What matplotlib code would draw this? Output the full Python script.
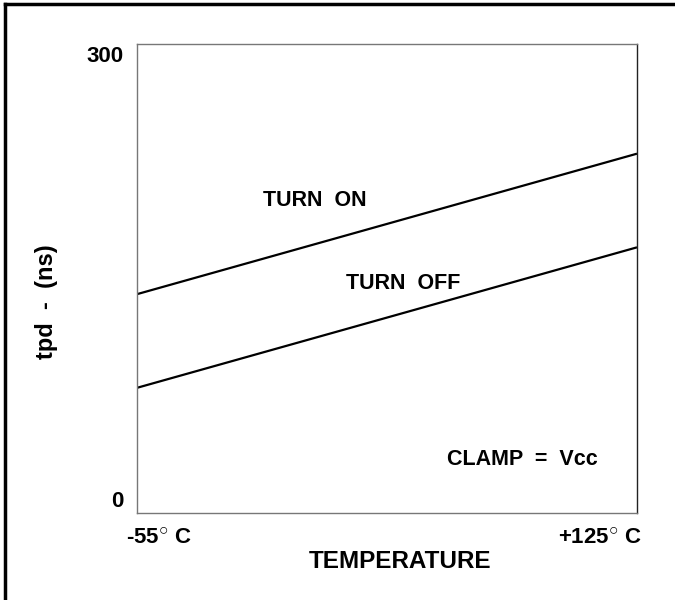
import matplotlib
matplotlib.use("Agg")
import matplotlib.pyplot as plt
from matplotlib.lines import Line2D
from matplotlib.transforms import ScaledTranslation

plt.rcParams["font.family"] = ["Liberation Sans", "DejaVu Sans"]
plt.rcParams["font.weight"] = "bold"
plt.rcParams["mathtext.fontset"] = "custom"
plt.rcParams["mathtext.rm"] = "Liberation Sans:bold"
plt.rcParams["mathtext.default"] = "regular"

# temperature range (deg C) and propagation delay (ns)
temps = [-55, 125]
turn_on = [140, 230]
turn_off = [80, 170]
y_ticks = [0, 300]
x_tick_labels = ["-55$^{\u25cb}\\;$C", "+125$^{\u25cb}\\;$C"]

fig = plt.figure(figsize=(6.75, 6), dpi=100)
ax = fig.add_axes([137 / 675, 1 - 512.7 / 600, 500 / 675, 468.3 / 600])

ax.plot(temps, turn_on, color="black", linewidth=1.6, solid_capstyle="butt")
ax.plot(temps, turn_off, color="black", linewidth=1.6, solid_capstyle="butt")
ax.set_xlim(temps)
ax.set_ylim(0, 300)

for side in ["left", "top", "bottom"]:
    ax.spines[side].set_color("#777777")
    ax.spines[side].set_linewidth(1.0)
ax.spines["right"].set_color("#222222")
ax.spines["right"].set_linewidth(1.0)

ax.set_yticks(y_ticks)
ax.set_yticklabels([str(v) for v in y_ticks], fontsize=16, fontweight="bold")
ax.tick_params(axis="y", length=0, pad=10)
labs = ax.get_yticklabels()
labs[0].set_va("bottom")
labs[0].set_transform(labs[0].get_transform() + ScaledTranslation(0, 1 / 100, fig.dpi_scale_trans))
labs[1].set_va("top")
labs[1].set_transform(labs[1].get_transform() + ScaledTranslation(0, -2 / 100, fig.dpi_scale_trans))

ax.set_xticks(temps)
ax.set_xticklabels(x_tick_labels, fontsize=16, fontweight="bold")
ax.tick_params(axis="x", length=0, pad=11)
xl = ax.get_xticklabels()
xl[0].set_ha("left")
xl[0].set_transform(xl[0].get_transform() + ScaledTranslation(-11 / 100, 0, fig.dpi_scale_trans))
xl[1].set_ha("right")
xl[1].set_transform(xl[1].get_transform() + ScaledTranslation(5 / 100, 0, fig.dpi_scale_trans))

ax.text(0.252, 0.666, "TURN  ON", transform=ax.transAxes, fontsize=15.5,
        fontweight="bold", va="center", ha="left")
ax.text(0.418, 0.49, "TURN  OFF", transform=ax.transAxes, fontsize=15.5,
        fontweight="bold", va="center", ha="left")
ax.text(0.62, 0.113, "CLAMP  =  Vcc", transform=ax.transAxes, fontsize=15.5,
        fontweight="bold", va="center", ha="left")

fig.text(400 / 675, 1 - 562 / 600, "TEMPERATURE", fontsize=17.5,
         fontweight="bold", ha="center", va="center")
fig.text(46 / 675, 1 - 302 / 600, "tpd  -  (ns)", fontsize=17,
         fontweight="bold", ha="center", va="center", rotation=90)

# frame on top and left edge of the page
fig.add_artist(Line2D([4.5 / 675, 1], [1 - 3.5 / 600, 1 - 3.5 / 600],
                      transform=fig.transFigure, color="black", linewidth=2.5))
fig.add_artist(Line2D([4.5 / 675, 4.5 / 675], [0, 1 - 3.5 / 600],
                      transform=fig.transFigure, color="black", linewidth=2.5,
                      solid_capstyle="projecting"))

fig.savefig("out.png", dpi=100)
